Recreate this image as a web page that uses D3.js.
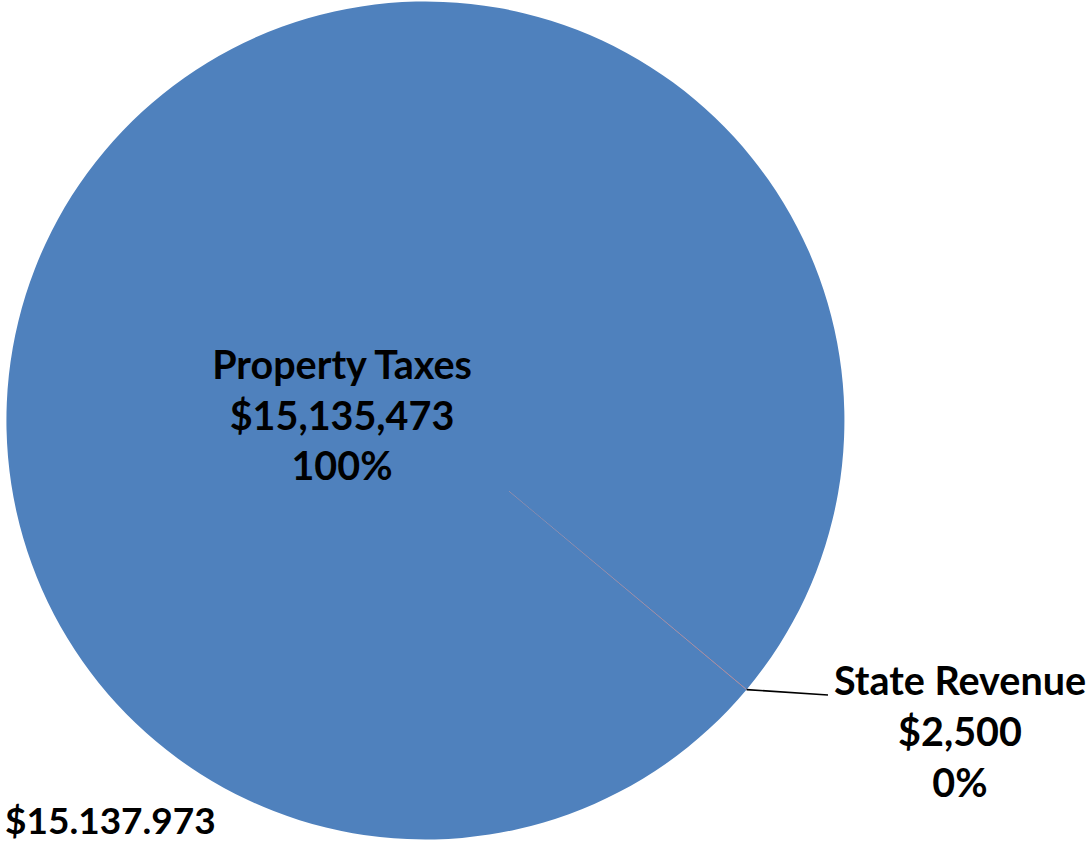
<!DOCTYPE html>
<html>
<head>
<meta charset="utf-8">
<script src="https://cdn.jsdelivr.net/npm/d3@7"></script>
<style>
  html, body { margin: 0; padding: 0; background: #ffffff; }
  svg { display: block; }
  text { font-family: Lato, "Open Sans", sans-serif; font-weight: 700; fill: #000; }
</style>
</head>
<body>
<svg id="chart" width="1089" height="841"></svg>
<script>
// Revenue sources
const categories = ["Property Taxes", "State Revenue"];
const amounts = [15135473, 2500];
const sliceColors = ["#4F81BD", "#C0504D"];

const W = 1089, H = 841;
const cx = 425, cy = 421, radius = 419;
// first slice begins at this clockwise angle from 12 o'clock (degrees)
const rotationDeg = 129.9;

const svg = d3.select("#chart");
const g = svg.append("g").attr("transform", `translate(${cx},${cy})`);

const start = rotationDeg * Math.PI / 180;
const pie = d3.pie().sort(null).value(d => d.value)
  .startAngle(start).endAngle(start + 2 * Math.PI);
const data = categories.map((c, i) => ({ name: c, value: amounts[i], color: sliceColors[i] }));
const arcs = pie(data);
const arc = d3.arc().innerRadius(0).outerRadius(radius);

g.selectAll("path.slice").data(arcs).enter().append("path")
  .attr("class", "slice")
  .attr("d", arc)
  .attr("fill", d => d.data.color);

const total = d3.sum(amounts);
const money = d3.format("$,.0f");
const pct = d3.format(".0%");
const fs = 39.5;

// label inside the large slice
const big = arcs[0];
const bigLines = [big.data.name, money(big.data.value), pct(big.data.value / total)];
const bigLabel = g.append("text").attr("text-anchor", "middle")
  .attr("transform", `translate(${-83},${-42})`)
  .style("font-size", fs + "px");
bigLabel.selectAll("tspan").data(bigLines).enter().append("tspan")
  .attr("x", 0).attr("y", (d, i) => i * 50.5).text(d => d);

// small slice: leader line and outside label
const small = arcs[1];
const midA = (small.startAngle + small.endAngle) / 2;
const edge = [radius * Math.sin(midA), -radius * Math.cos(midA)];
const labelX = 535, labelY = 274;
g.append("line")
  .attr("x1", edge[0]).attr("y1", edge[1])
  .attr("x2", 403).attr("y2", labelY)
  .attr("stroke", "#000").attr("stroke-width", 1.6);
const smallLines = [small.data.name, money(small.data.value), pct(small.data.value / total)];
const smallLabel = g.append("text").attr("text-anchor", "middle")
  .attr("transform", `translate(${labelX},${labelY})`)
  .style("font-size", fs + "px");
smallLabel.selectAll("tspan").data(smallLines).enter().append("tspan")
  .attr("x", 0).attr("y", (d, i) => i * 51).text(d => d);

// grand total in the lower-left corner
const dotted = d3.formatLocale({ decimal: ",", thousands: ".", grouping: [3], currency: ["$", ""] });
svg.append("text").attr("x", 5).attr("y", 834)
  .style("font-size", "37px")
  .text(dotted.format("$,.0f")(total));
</script>
</body>
</html>
